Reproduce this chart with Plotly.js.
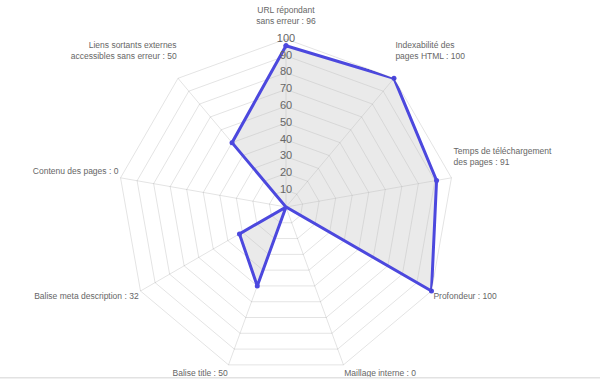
<!DOCTYPE html>
<html>
<head>
<meta charset="utf-8">
<script src="https://cdn.plot.ly/plotly-3.0.1.min.js"></script>
<style>
html,body{margin:0;padding:0;background:#fff;}
#chart{width:600px;height:379px;}
</style>
</head>
<body>
<div id="chart"></div>
<script>
// Axis names ("|" marks the line break used in the label)
var categories = [
  "URL répondant|sans erreur",
  "Indexabilité des|pages HTML",
  "Temps de téléchargement|des pages",
  "Profondeur",
  "Maillage interne",
  "Balise title",
  "Balise meta description",
  "Contenu des pages",
  "Liens sortants externes|accessibles sans erreur"
];
var scores = [96, 100, 91, 100, 0, 50, 32, 0, 50];
var radialTicks = [10, 20, 30, 40, 50, 60, 70, 80, 90, 100];

// layout helper: blank trailing lines that lift a label away from its vertex
var labelLift = [1, 2, 3, 0, 0, 0, 0, 1, 2];

var thetaKeys = categories.map(function(c){ return c.replace("|", " "); });
var tickText = categories.map(function(c, i){
  var t = c.replace("|", "<br>") + " : " + scores[i];
  for (var k = 0; k < labelLift[i]; k++) t += "<br>\u00a0";
  return t;
});

var lineColor = "rgb(76,72,222)";
var gridColor = "rgba(0,0,0,0.11)";

var traces = [
  {
    type: "scatterpolar",
    mode: "lines+markers",
    r: scores.concat([scores[0]]),
    theta: thetaKeys.concat([thetaKeys[0]]),
    fill: "toself",
    fillcolor: "rgba(190,190,190,0.33)",
    line: {color: lineColor, width: 3},
    marker: {color: lineColor, size: 5},
    hoverinfo: "none",
    showlegend: false
  },
  {
    type: "scatterpolar",
    mode: "text",
    r: radialTicks,
    theta: radialTicks.map(function(){ return thetaKeys[0]; }),
    text: radialTicks.map(String),
    textposition: "middle center",
    textfont: {family: "Liberation Sans, Arial, sans-serif", size: 11, color: "#666"},
    hoverinfo: "none",
    showlegend: false
  }
];

var layout = {
  width: 600,
  height: 379,
  margin: {l: 0, r: 0, t: 0, b: 0},
  paper_bgcolor: "#fff",
  showlegend: false,
  font: {family: "Liberation Sans, Arial, sans-serif", color: "#666"},
  polar: {
    domain: {x: [(286 - 168) / 600, (286 + 168) / 600], y: [(172 - 168) / 379, (172 + 168) / 379]},
    gridshape: "linear",
    bgcolor: "#fff",
    radialaxis: {
      range: [0, 100],
      tickvals: radialTicks,
      showticklabels: false,
      ticks: "",
      showline: false,
      gridcolor: gridColor,
      gridwidth: 1,
      angle: 90
    },
    angularaxis: {
      type: "category",
      categoryarray: thetaKeys,
      tickvals: thetaKeys,
      ticktext: tickText,
      rotation: 90,
      direction: "clockwise",
      ticks: "",
      showline: true,
      linecolor: gridColor,
      gridcolor: gridColor,
      tickfont: {family: "Liberation Sans, Arial, sans-serif", size: 8.5, color: "#666"}
    }
  },
  shapes: [
    {type: "line", xref: "paper", yref: "paper", x0: 0, x1: 1, y0: 0.003, y1: 0.003,
     line: {color: "#e2e2e2", width: 1.5}}
  ]
};

Plotly.newPlot("chart", traces, layout, {displayModeBar: false, staticPlot: true});
</script>
</body>
</html>
